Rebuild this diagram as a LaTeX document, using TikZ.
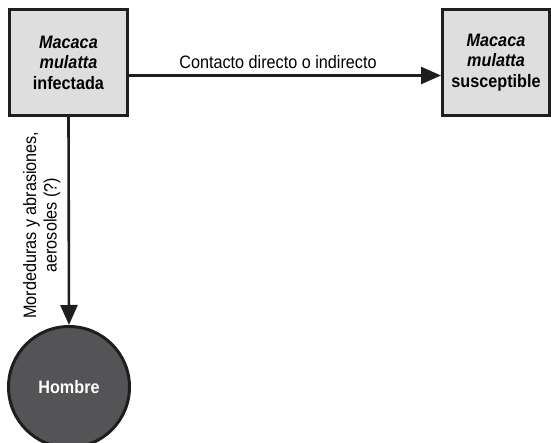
\documentclass[tikz,border=0pt]{standalone}
\usepackage{fontspec}
\setmainfont{Liberation Sans}[FakeStretch=0.9]
\usetikzlibrary{arrows.meta}
\definecolor{boxgray}{RGB}{222,222,222}
\definecolor{mangray}{RGB}{84,84,86}
\definecolor{inkblack}{RGB}{30,30,30}

\begin{document}
\begin{tikzpicture}[x=1pt,y=-1pt,
  font=\fontsize{18}{20.5}\selectfont,
  host/.style={draw=inkblack, line width=3pt, fill=boxgray, align=center,
    inner sep=0pt},
  route/.style={draw=inkblack, line width=2.6pt,
    -{Triangle[length=20pt,width=17pt]}}]

  \useasboundingbox (0,0) rectangle (551,442);

  % Macaques
  \node[host, minimum width=118pt, minimum height=106pt] (infect) at (68.5,62.5)
    {\textbf{\textit{Macaca}}\\ \textbf{\textit{mulatta}}\\ \textbf{infectada}};
  \node[host, minimum width=107pt, minimum height=106pt] (suscept) at (496,62.5)
    {\textbf{\textit{Macaca}}\\ \textbf{\textit{mulatta}}\\ \textbf{susceptible}};

  % Human
  \node[circle, draw=inkblack, line width=3pt, fill=mangray, minimum size=121pt,
    text=white, font=\fontsize{18}{20}\selectfont\bfseries] (hombre) at (69,387) {Hombre};

  % Transmission routes
  \draw[route] ([yshift=-13pt]infect.east) -- ([yshift=-13pt]suscept.west)
    node[midway, above, inner sep=6pt, xshift=-7pt] {Contacto directo o indirecto};
  \draw[route] (infect.south) -- (hombre.north)
    node[pos=0.52, rotate=90, anchor=south, inner sep=7pt, align=center]
    {Mordeduras y abrasiones,\\ aerosoles (?)};

\end{tikzpicture}
\end{document}
